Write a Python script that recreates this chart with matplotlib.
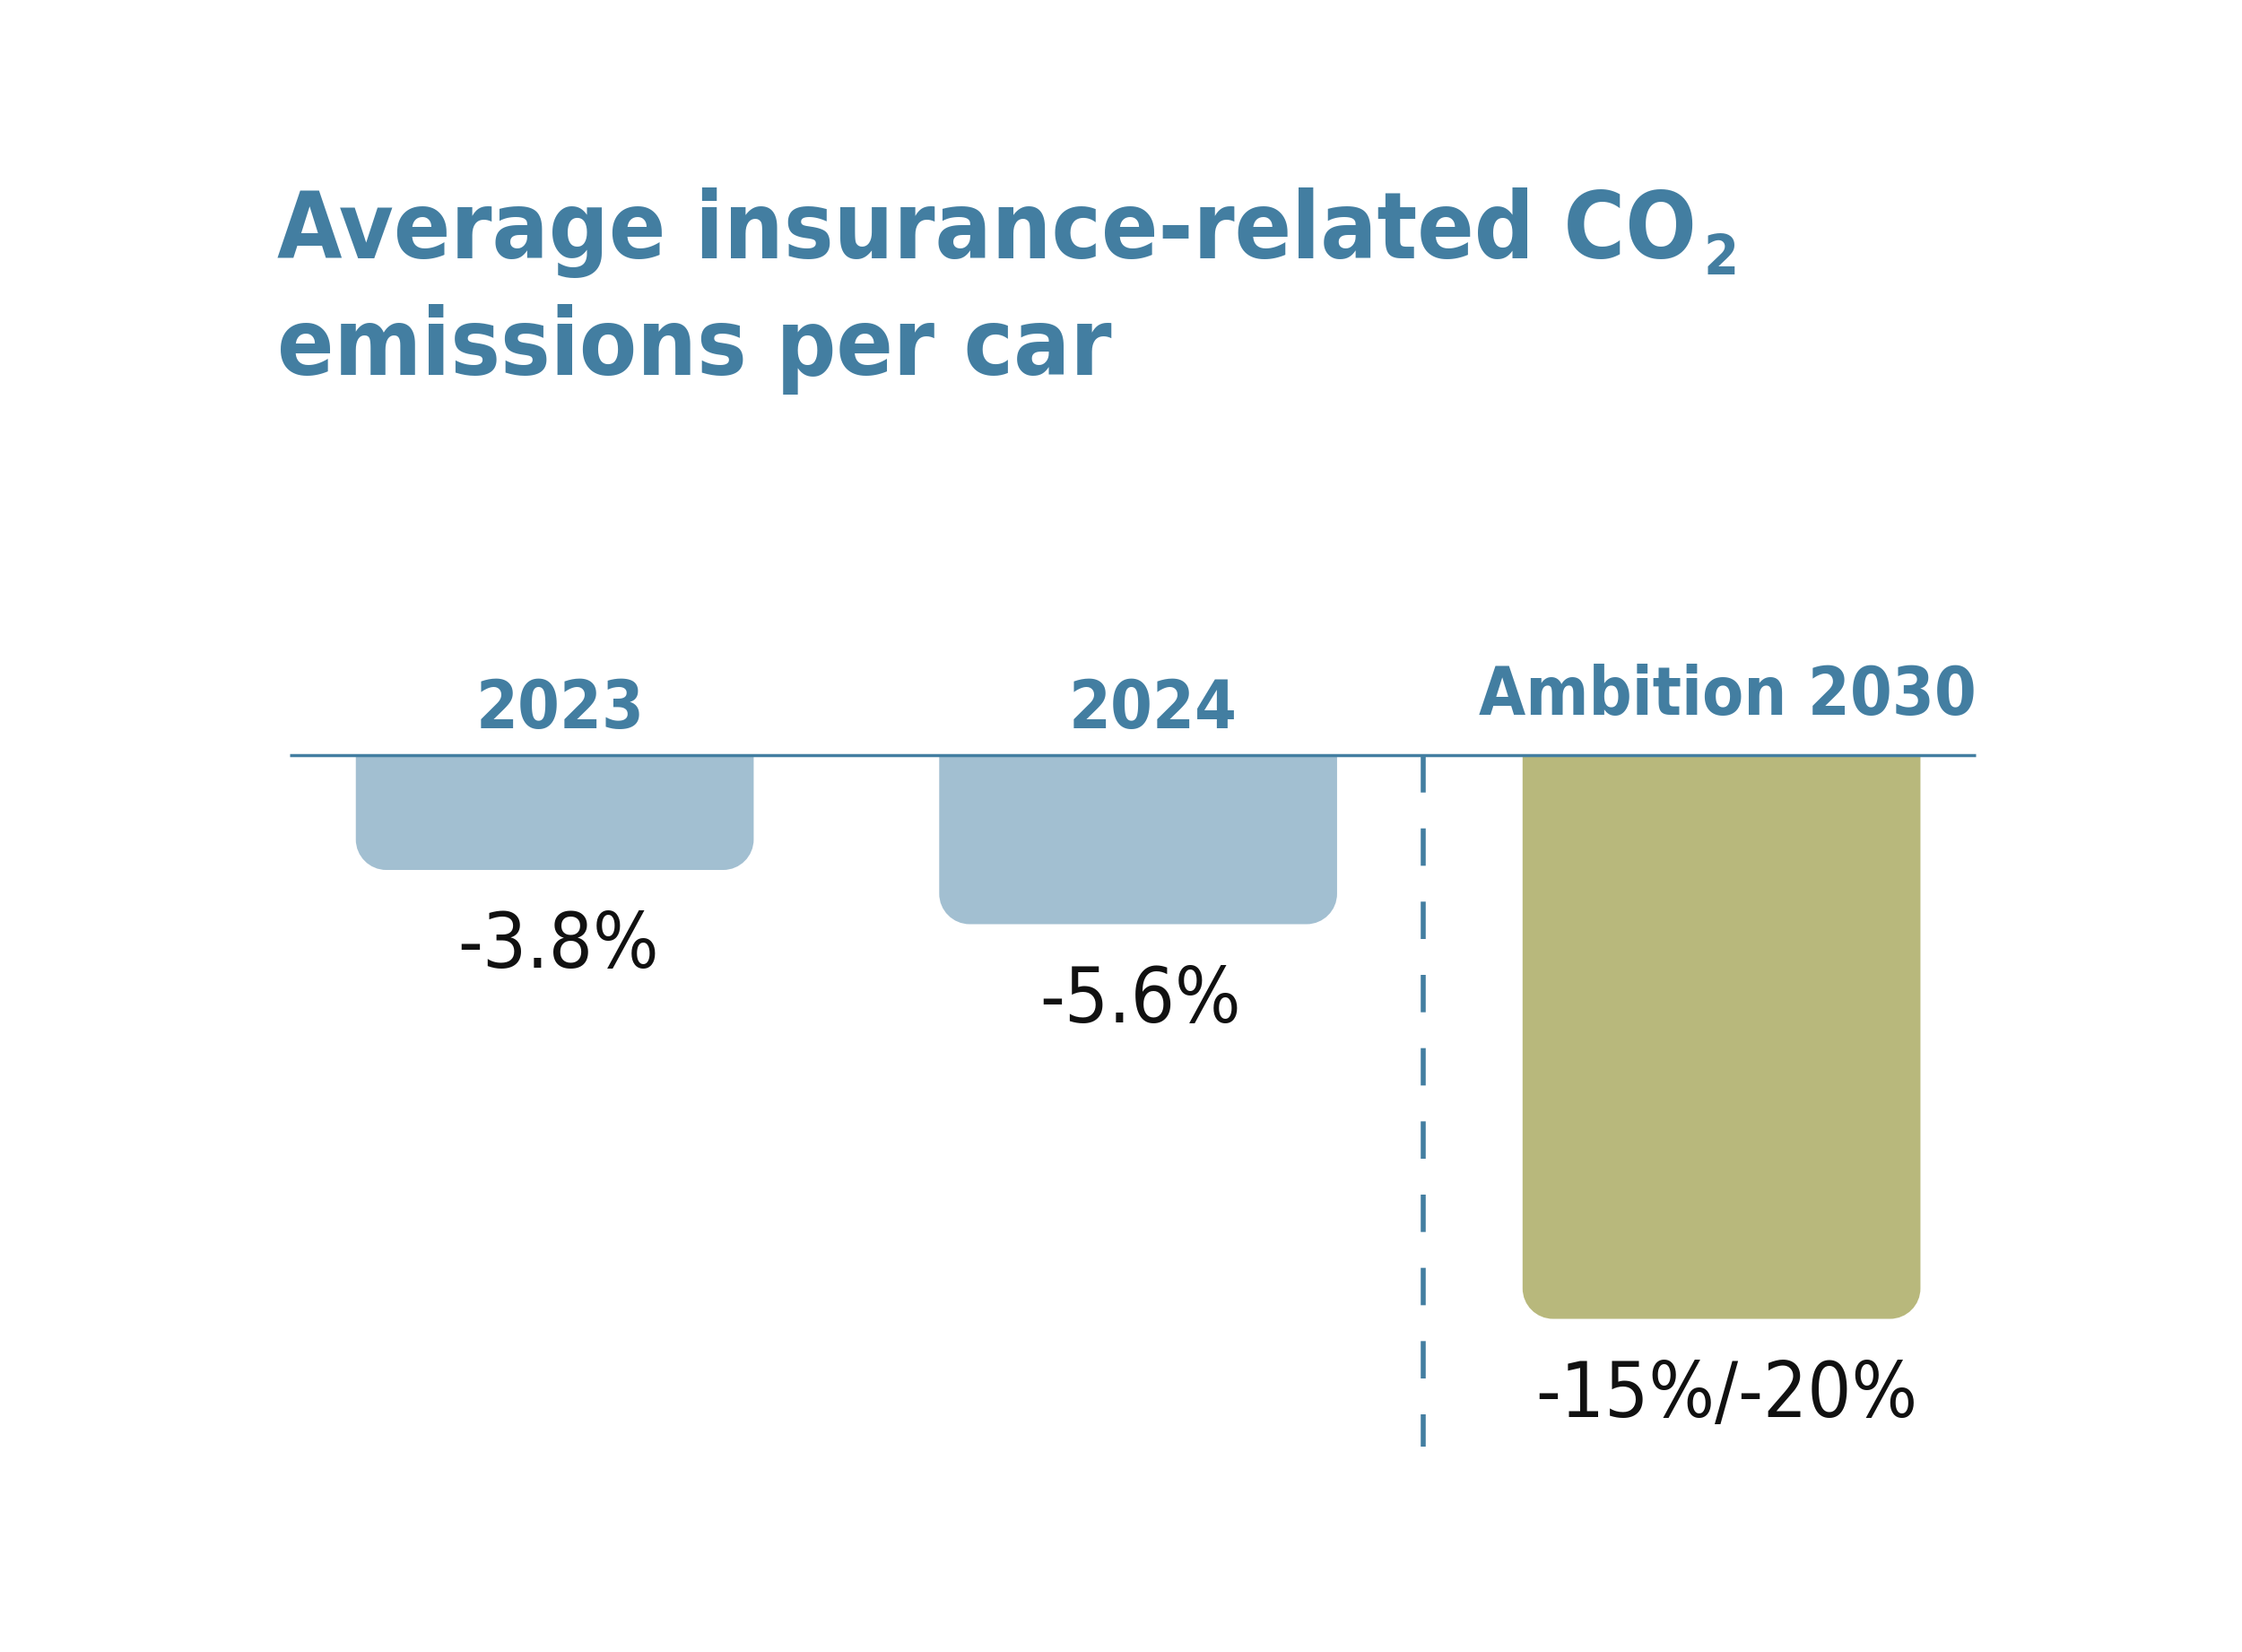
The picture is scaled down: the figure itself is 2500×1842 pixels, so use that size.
import numpy as np
import matplotlib
matplotlib.use('Agg')
import matplotlib.pyplot as plt
from matplotlib.path import Path
from matplotlib.patches import PathPatch
from matplotlib import font_manager

categories = ['2023', '2024', 'Ambition 2030']
values = [-3.8, -5.6, -18.7]
value_labels = ['-3.8%', '-5.6%', '-15%/-20%']
bar_colors = ['#a2bfd1', '#a2bfd1', '#b8b87c']
title_lines = ['Average insurance-related CO', 'emissions per car']
title_sub = '2'

BLUE = '#437ea1'

# pick a narrow face if the system has one
names = {f.name for f in font_manager.fontManager.ttflist}
stretches = {(f.name, f.stretch) for f in font_manager.fontManager.ttflist}
if ('DejaVu Sans', 'condensed') in stretches or ('DejaVu Sans', 'semi-condensed') in stretches:
    FAM, STRETCH = ['DejaVu Sans'], 'condensed'
elif 'Liberation Sans Narrow' in names:
    FAM, STRETCH = ['Liberation Sans Narrow', 'DejaVu Sans'], 'normal'
else:
    FAM, STRETCH = ['DejaVu Sans'], 'normal'

fig = plt.figure(figsize=(25, 18.42), dpi=100)
ax = fig.add_axes([0.1293, 0.0771, 0.752, 0.4656])
ax.set_xlim(-0.454, 2.436)
ax.set_ylim(-25.53, 0)
ax.axis('off')

x = np.arange(len(categories))
bars = ax.bar(x, values, width=0.682, color=bar_colors)

# rounded bottom corners
fig.canvas.draw()
px_x = ax.transData.transform((1, 0))[0] - ax.transData.transform((0, 0))[0]
px_y = ax.transData.transform((0, 1))[1] - ax.transData.transform((0, 0))[1]
r = 34
rx, ry = r / px_x, r / abs(px_y)
k = 0.5523
for b in bars:
    x0, w, h = b.get_x(), b.get_width(), b.get_height()
    x1, yb = x0 + w, h
    verts = [(x0, 0), (x0, yb + ry),
             (x0, yb + ry * (1 - k)), (x0 + rx * (1 - k), yb), (x0 + rx, yb),
             (x1 - rx, yb),
             (x1 - rx * (1 - k), yb), (x1, yb + ry * (1 - k)), (x1, yb + ry),
             (x1, 0), (x0, 0)]
    codes = [Path.MOVETO, Path.LINETO,
             Path.CURVE4, Path.CURVE4, Path.CURVE4,
             Path.LINETO,
             Path.CURVE4, Path.CURVE4, Path.CURVE4,
             Path.LINETO, Path.CLOSEPOLY]
    ax.add_patch(PathPatch(Path(verts, codes), facecolor=b.get_facecolor(),
                           edgecolor='none', zorder=2))
    b.set_visible(False)

ax.axhline(0, color=BLUE, lw=2.5, zorder=3, clip_on=False, solid_capstyle='butt')
ax.plot([1.488, 1.488], [0, -22.95], color=BLUE, lw=4,
        linestyle=(0, (7.5, 7.2)), dash_capstyle='butt', zorder=3, clip_on=False)

# category labels above the zero line
cat_y = [0.9, 0.9, 1.35]
cat_dx = [4, 12, 5]
for xi, c, cy, dx in zip(x, categories, cat_y, cat_dx):
    ax.annotate(c, (xi, cy), xytext=(dx, 0), textcoords='offset points',
                ha='center', va='baseline', color=BLUE, fontsize=54,
                fontweight='bold', family=FAM, fontstretch=STRETCH,
                annotation_clip=False)

# value labels below each bar
val_dx = [3, 2, 4]
for b, lab, dx in zip(bars, value_labels, val_dx):
    ax.annotate(lab, (b.get_x() + b.get_width() / 2, b.get_height()),
                xytext=(dx, -32), textcoords='offset points', ha='center',
                va='top', fontsize=62, color='#111111', family=FAM,
                fontstretch=STRETCH)

t1 = fig.text(0.1235, 0.8436, title_lines[0], ha='left', va='baseline', color=BLUE,
              fontsize=75, fontweight='bold', family=FAM, fontstretch=STRETCH)
fig.text(0.1235, 0.7731, title_lines[1], ha='left', va='baseline', color=BLUE,
         fontsize=75, fontweight='bold', family=FAM, fontstretch=STRETCH)
ax.annotate(title_sub, xy=(1, 0.8436), xycoords=(t1, 'figure fraction'),
            xytext=(6, -13), textcoords='offset points', ha='left', va='baseline',
            color=BLUE, fontsize=45, fontweight='bold', family=FAM,
            fontstretch=STRETCH, annotation_clip=False)

fig.savefig('out.png', dpi=100, facecolor='white')
